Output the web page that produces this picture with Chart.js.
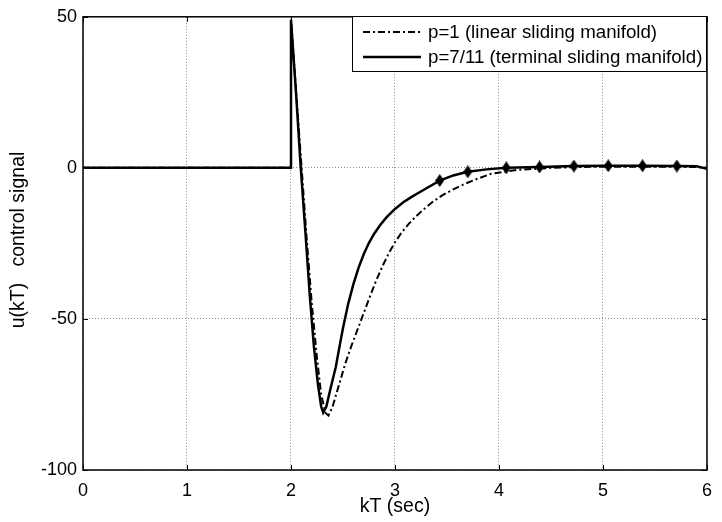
<!DOCTYPE html>
<html>
<head>
<meta charset="utf-8">
<script src="https://cdn.jsdelivr.net/npm/chart.js@4/dist/chart.umd.min.js"></script>
<style>
  html, body { margin: 0; padding: 0; background: #fff; }
  #wrap { width: 722px; height: 522px; }
</style>
</head>
<body>
<div id="wrap"><canvas id="u_chart" width="722" height="522"></canvas></div>
<script>
// values
var xTicks = [0, 1, 2, 3, 4, 5, 6];
var yTicks = [-100, -50, 0, 50];

// p=1 (linear sliding manifold), dash-dot
var tLinear = [0, 2, 2, 2.05, 2.1, 2.15, 2.2, 2.25, 2.29, 2.33, 2.36, 2.4, 2.46, 2.52, 2.58, 2.64, 2.7, 2.76, 2.82, 2.88, 2.94, 3, 3.06, 3.13, 3.2, 3.28, 3.36, 3.45, 3.56, 3.67, 3.8, 3.92, 4.17, 4.5, 4.8, 5.1, 5.5, 5.9, 6];
var uLinear = [0, 0, 49, 25, 1, -23, -45, -63, -75, -81, -82, -79, -72, -65, -59, -53.5, -48, -42.5, -37.2, -32.5, -28.3, -24.6, -21.6, -18.6, -16.1, -13.6, -11.3, -9.2, -7.1, -5.3, -3.5, -2, -0.7, 0, 0.3, 0.4, 0.4, 0.3, 0];

// p=7/11 (terminal sliding manifold), solid
var tTerminal = [0, 2, 2, 2.05, 2.09, 2.14, 2.18, 2.22, 2.26, 2.29, 2.31, 2.34, 2.38, 2.43, 2.47, 2.5, 2.55, 2.6, 2.65, 2.7, 2.75, 2.8, 2.86, 2.92, 3, 3.08, 3.16, 3.29, 3.43, 3.56, 3.7, 3.88, 4.07, 4.39, 4.72, 5.05, 5.38, 5.71, 5.9, 6];
var uTerminal = [0, 0, 49, 24, 2, -22, -42, -59, -72, -79, -81, -79, -73, -66, -58.5, -53, -45, -38.5, -33, -28.5, -24.8, -21.8, -18.8, -16.3, -13.6, -11.4, -9.6, -7, -4.2, -2.5, -1.3, -0.5, 0, 0.3, 0.6, 0.7, 0.7, 0.6, 0.5, -0.3];

// diamond markers sitting on the solid curve
var tMarks = [3.43, 3.7, 4.07, 4.39, 4.72, 5.05, 5.38, 5.71];
var uMarks = [-4.2, -1.3, 0, 0.3, 0.6, 0.7, 0.7, 0.6];

var labels = ['p=1 (linear sliding manifold)', 'p=7/11 (terminal sliding manifold)'];

function pairs(xs, ys) {
  return xs.map(function (x, i) { return { x: x, y: ys[i] }; });
}

// tall diamond used as point style
var diamond = document.createElement('canvas');
diamond.width = 9; diamond.height = 13;
(function () {
  var c = diamond.getContext('2d');
  c.fillStyle = '#000';
  c.beginPath();
  c.moveTo(4.5, 0); c.lineTo(9, 6.5); c.lineTo(4.5, 13); c.lineTo(0, 6.5);
  c.closePath();
  c.fill();
})();

var FONT = '"Liberation Sans", Arial, Helvetica, sans-serif';

// frame, inner ticks, legend box and axis titles (matlab look)
var matlabDecor = {
  id: 'matlabDecor',
  afterDatasetsDraw: function (chart) {
    var ctx = chart.ctx;
    var a = chart.chartArea;
    var xs = chart.scales.x, ys = chart.scales.y;
    ctx.save();

    // inner tick marks
    ctx.strokeStyle = '#000';
    ctx.lineWidth = 1;
    ctx.beginPath();
    xTicks.forEach(function (v) {
      var px = Math.round(xs.getPixelForValue(v)) + 0.5;
      ctx.moveTo(px, a.bottom); ctx.lineTo(px, a.bottom - 5);
      ctx.moveTo(px, a.top); ctx.lineTo(px, a.top + 5);
    });
    yTicks.forEach(function (v) {
      var py = Math.round(ys.getPixelForValue(v)) + 0.5;
      ctx.moveTo(a.left, py); ctx.lineTo(a.left + 5, py);
      ctx.moveTo(a.right, py); ctx.lineTo(a.right - 5, py);
    });
    ctx.stroke();

    // frame
    ctx.lineWidth = 1.5;
    ctx.strokeRect(a.left, a.top, a.right - a.left, a.bottom - a.top);

    // legend
    var lx = 352, ly = 16, lw = a.right - 352, lh = 56;
    ctx.fillStyle = '#fff';
    ctx.fillRect(lx, ly, lw, lh);
    ctx.lineWidth = 1;
    ctx.strokeStyle = '#000';
    ctx.strokeRect(lx + 0.5, ly + 0.5, lw - 1, lh - 1);
    ctx.font = '18.7px ' + FONT;
    ctx.textBaseline = 'middle';
    ctx.textAlign = 'left';
    [0, 1].forEach(function (i) {
      var ds = chart.data.datasets[i];
      var y = ly + 16 + i * 25;
      ctx.save();
      ctx.strokeStyle = ds.borderColor;
      ctx.lineWidth = ds.borderWidth;
      ctx.setLineDash(ds.borderDash || []);
      ctx.beginPath();
      ctx.moveTo(lx + 11, y); ctx.lineTo(lx + 69, y);
      ctx.stroke();
      ctx.restore();
      ctx.fillStyle = '#000';
      ctx.fillText(ds.label, lx + 76, y + 1);
    });

    // axis titles
    ctx.fillStyle = '#000';
    ctx.font = '19.5px ' + FONT;
    ctx.textAlign = 'center';
    ctx.textBaseline = 'middle';
    ctx.fillText('kT (sec)', (a.left + a.right) / 2, 507);
    ctx.translate(19, 240);
    ctx.rotate(-Math.PI / 2);
    ctx.fillText('u(kT)   control signal', 0, 0);
    ctx.restore();
  }
};

new Chart(document.getElementById('u_chart'), {
  type: 'line',
  data: {
    datasets: [
      {
        label: labels[0],
        data: pairs(tLinear, uLinear),
        borderColor: '#000',
        borderWidth: 2,
        borderDash: [7, 3, 2, 3],
        pointRadius: 0,
        tension: 0,
        fill: false
      },
      {
        label: labels[1],
        data: pairs(tTerminal, uTerminal),
        borderColor: '#000',
        borderWidth: 2.5,
        pointRadius: 0,
        tension: 0,
        fill: false
      },
      {
        label: 'marks',
        data: pairs(tMarks, uMarks),
        showLine: false,
        pointStyle: diamond,
        pointRadius: 5,
        backgroundColor: '#000',
        borderColor: '#000'
      }
    ]
  },
  options: {
    responsive: false,
    animation: false,
    devicePixelRatio: 1,
    layout: { padding: { left: 0, right: 5, top: 16, bottom: 0 } },
    plugins: {
      legend: { display: false },
      tooltip: { enabled: false }
    },
    scales: {
      x: {
        type: 'linear',
        min: 0, max: 6,
        afterFit: function (s) { s.height = 52; },
        afterBuildTicks: function (s) { s.ticks = xTicks.map(function (v) { return { value: v }; }); },
        grid: { color: '#8c8c8c', lineWidth: 1, drawTicks: false },
        border: { display: false, dash: [1, 2] },
        ticks: { color: '#000', font: { family: FONT, size: 18 }, padding: 10, maxRotation: 0 }
      },
      y: {
        type: 'linear',
        min: -100, max: 50,
        afterFit: function (s) { s.width = 83; },
        afterBuildTicks: function (s) { s.ticks = yTicks.map(function (v) { return { value: v }; }); },
        grid: { color: '#8c8c8c', lineWidth: 1, drawTicks: false },
        border: { display: false, dash: [1, 2] },
        ticks: { color: '#000', font: { family: FONT, size: 18 }, padding: 6 }
      }
    }
  },
  plugins: [matlabDecor]
});
</script>
</body>
</html>
